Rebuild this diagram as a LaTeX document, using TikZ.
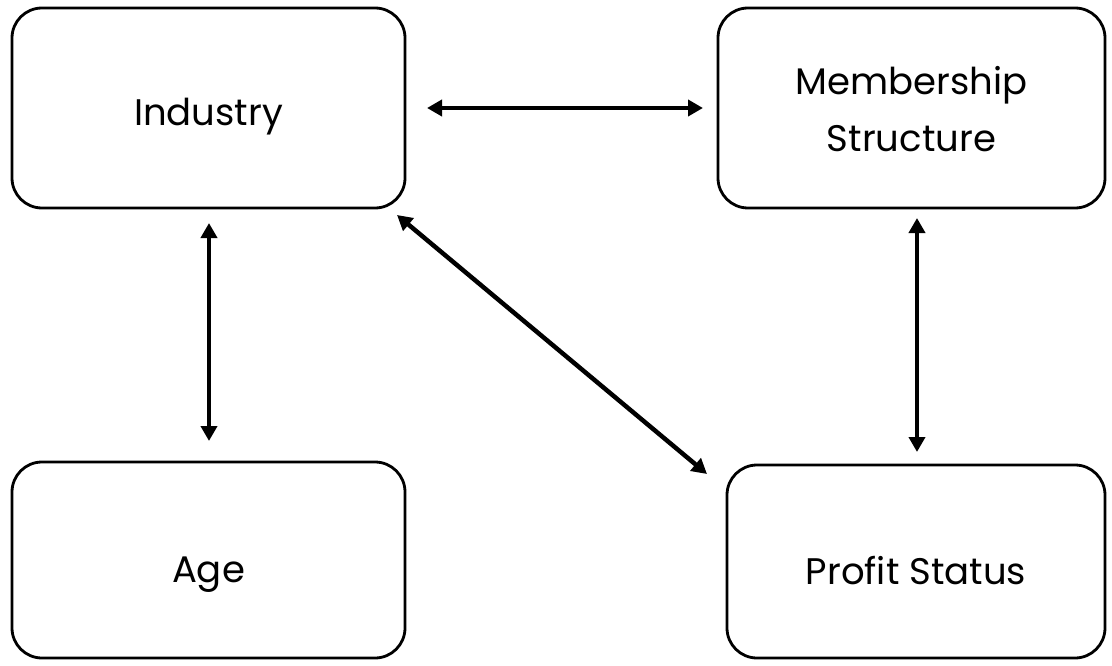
\documentclass[tikz,border=0pt]{standalone}
\usepackage{fontspec}
\setmainfont{Poppins}
\usetikzlibrary{arrows.meta}
\newcommand{\lowtext}[2]{\raisebox{-#1}[0pt][0pt]{#2}}
\begin{document}
\begin{tikzpicture}[x=1pt,y=-1pt,
  box/.style={draw, line width=2.8pt, rounded corners=30pt, inner sep=0pt,
    font=\fontsize{37}{57}\selectfont},
  link/.style={line width=4.5pt, {Triangle[length=15pt,width=16pt]}-{Triangle[length=15pt,width=16pt]}}]
\useasboundingbox (0,0) rectangle (1112,666);
\node[box, minimum width=393pt, minimum height=200pt] (ind) at (208.5,108) {\lowtext{18pt}{Industry}};
\node[box, minimum width=387pt, minimum height=200pt] (mem) at (911.5,108) {\lowtext{44pt}{\begin{tabular}[b]{@{}c@{}}Membership\\Structure\end{tabular}}};
\node[box, minimum width=393pt, minimum height=196pt] (age) at (208.5,560) {\lowtext{22pt}{Age}};
\node[box, minimum width=378pt, minimum height=193pt] (pro) at (916,561.5) {\lowtext{22.5pt}{Profit Status}};
\coordinate (h1) at (427,108);
\coordinate (h2) at (703,108);
\coordinate (l1) at (209,223);
\coordinate (l2) at (209,441);
\coordinate (r1) at (917,218);
\coordinate (r2) at (917,452);
\coordinate (d1) at (397,215);
\coordinate (d2) at (707,474);
\draw[link] (h1) -- (h2);
\draw[link] (l1) -- (l2);
\draw[link] (r1) -- (r2);
\draw[link] (d1) -- (d2);
\end{tikzpicture}
\end{document}
